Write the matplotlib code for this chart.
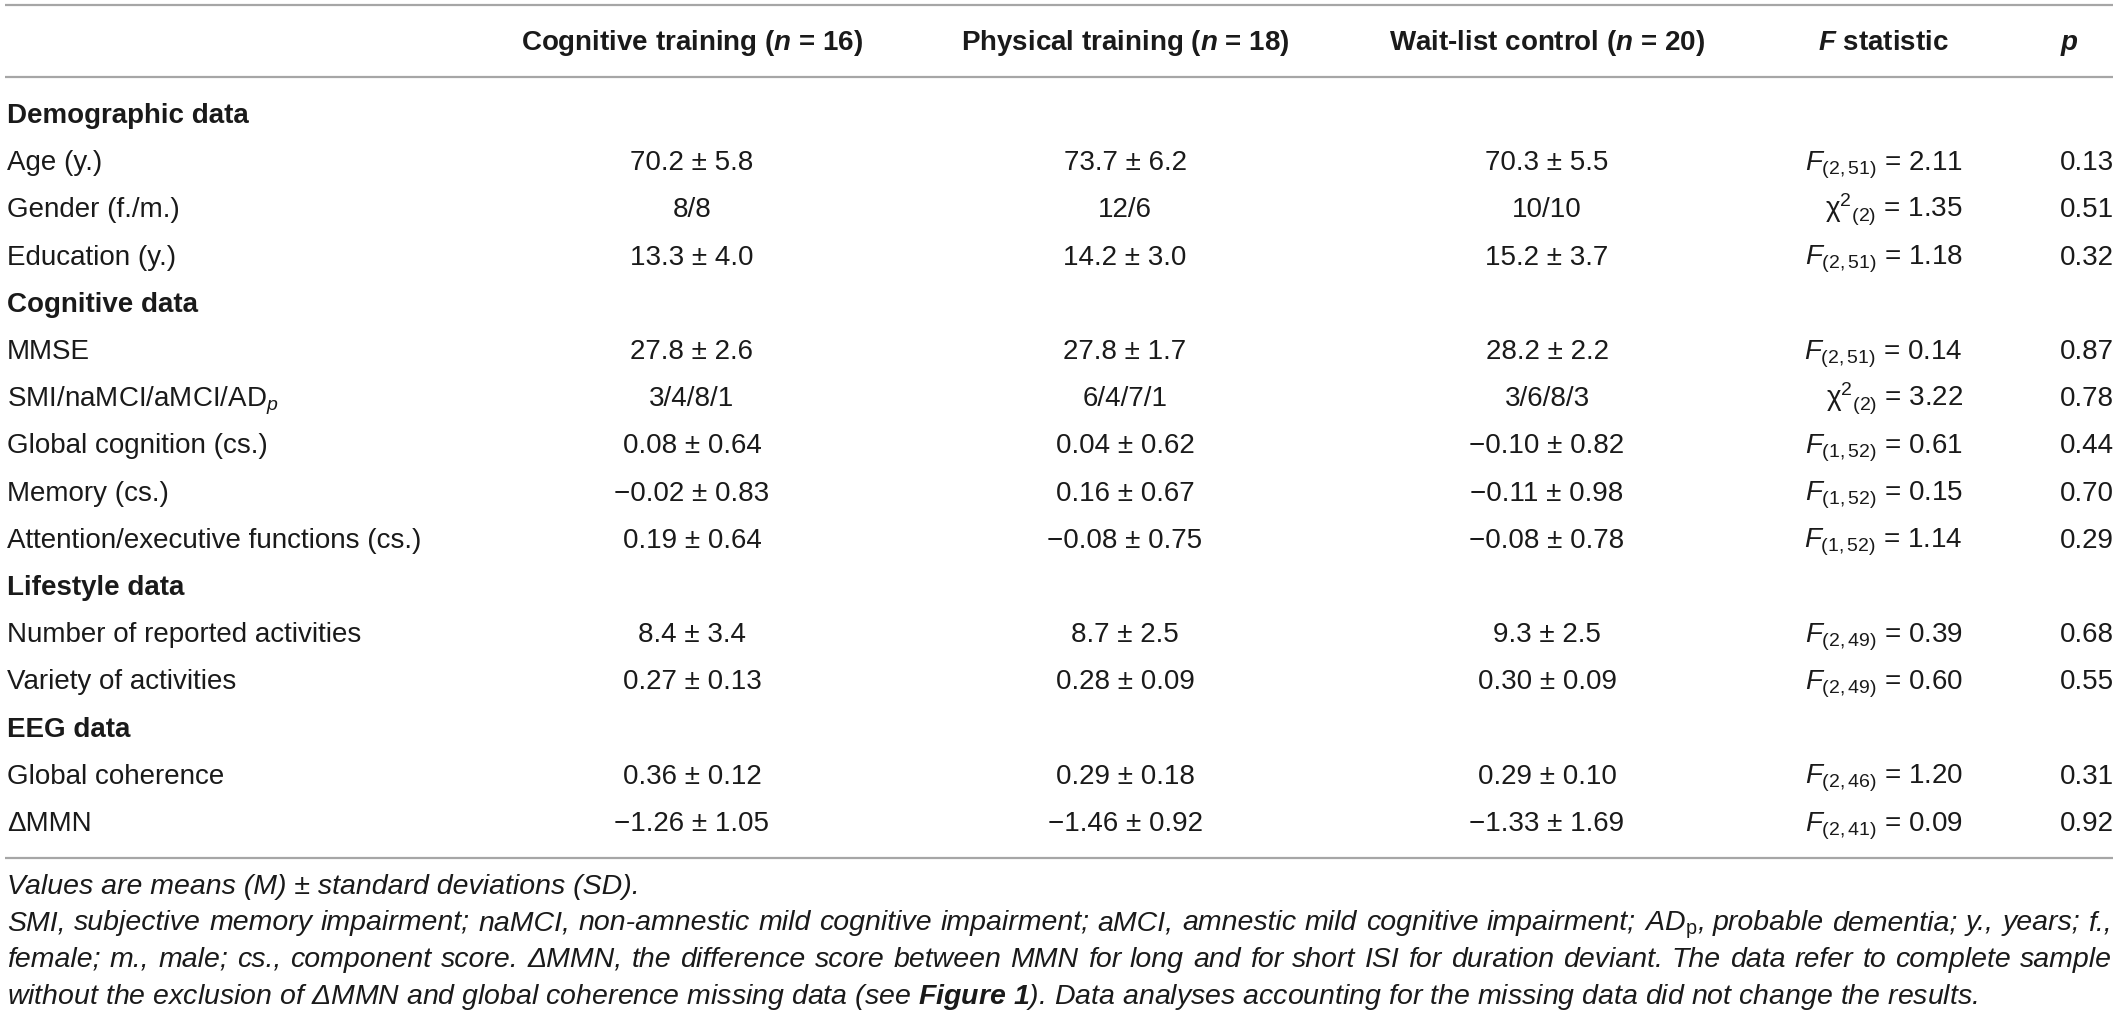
import matplotlib
matplotlib.use("Agg")
import matplotlib.pyplot as plt

plt.rcParams['font.family'] = ['Liberation Sans', 'DejaVu Sans']
plt.rcParams['mathtext.fontset'] = 'custom'
plt.rcParams['mathtext.rm'] = 'Liberation Sans'
plt.rcParams['mathtext.it'] = 'Liberation Sans:italic'
plt.rcParams['mathtext.bf'] = 'Liberation Sans:italic:bold'

# ---- table content ----
col_headers = [r"Cognitive training ($\mathbf{n}$ = 16)",
               r"Physical training ($\mathbf{n}$ = 18)",
               r"Wait-list control ($\mathbf{n}$ = 20)",
               r"$\mathbf{F}$ statistic",
               r"$\mathbf{p}$"]

row_labels = ["Demographic data", "Age (y.)", "Gender (f./m.)", "Education (y.)",
              "Cognitive data", "MMSE", r"SMI/naMCI/aMCI/AD$_{\mathit{p}}$",
              "Global cognition (cs.)", "Memory (cs.)",
              "Attention/executive functions (cs.)",
              "Lifestyle data", "Number of reported activities", "Variety of activities",
              "EEG data", "Global coherence", "\u0394MMN"]
is_section = [True, False, False, False, True, False, False, False, False, False,
              True, False, False, True, False, False]

cognitive = [None, "70.2 \u00b1 5.8", "8/8", "13.3 \u00b1 4.0",
             None, "27.8 \u00b1 2.6", "3/4/8/1", "0.08 \u00b1 0.64",
             "\u22120.02 \u00b1 0.83", "0.19 \u00b1 0.64",
             None, "8.4 \u00b1 3.4", "0.27 \u00b1 0.13",
             None, "0.36 \u00b1 0.12", "\u22121.26 \u00b1 1.05"]
physical = [None, "73.7 \u00b1 6.2", "12/6", "14.2 \u00b1 3.0",
            None, "27.8 \u00b1 1.7", "6/4/7/1", "0.04 \u00b1 0.62",
            "0.16 \u00b1 0.67", "\u22120.08 \u00b1 0.75",
            None, "8.7 \u00b1 2.5", "0.28 \u00b1 0.09",
            None, "0.29 \u00b1 0.18", "\u22121.46 \u00b1 0.92"]
waitlist = [None, "70.3 \u00b1 5.5", "10/10", "15.2 \u00b1 3.7",
            None, "28.2 \u00b1 2.2", "3/6/8/3", "\u22120.10 \u00b1 0.82",
            "\u22120.11 \u00b1 0.98", "\u22120.08 \u00b1 0.78",
            None, "9.3 \u00b1 2.5", "0.30 \u00b1 0.09",
            None, "0.29 \u00b1 0.10", "\u22121.33 \u00b1 1.69"]
stat_kind = [None, "F", "chi", "F", None, "F", "chi", "F", "F", "F",
             None, "F", "F", None, "F", "F"]
stat_df = [None, "2,51", "2", "2,51", None, "2,51", "2", "1,52", "1,52", "1,52",
           None, "2,49", "2,49", None, "2,46", "2,41"]
stat_val = [None, "2.11", "1.35", "1.18", None, "0.14", "3.22", "0.61", "0.15", "1.14",
            None, "0.39", "0.60", None, "1.20", "0.09"]
p_vals = [None, "0.13", "0.51", "0.32", None, "0.87", "0.78", "0.44", "0.70", "0.29",
          None, "0.68", "0.55", None, "0.31", "0.92"]

footnotes = [
    "Values are means (M) \u00b1 standard deviations (SD).",
    r"SMI, subjective memory impairment; naMCI, non-amnestic mild cognitive impairment; "
    r"aMCI, amnestic mild cognitive impairment; AD$_{\mathrm{p}}$, probable dementia; y., years; f.,",
    "female; m., male; cs., component score. \u0394MMN, the difference score between MMN "
    "for long and for short ISI for duration deviant. The data refer to complete sample",
    "without the exclusion of \u0394MMN and global coherence missing data (see "
    r"$\mathbf{Figure\ 1}$). Data analyses accounting for the missing data did not change the results.",
]
justify = [False, True, True, False]

W, H = 2118, 1018
fig = plt.figure(figsize=(W / 100, H / 100), dpi=100)
ax = fig.add_axes([0, 0, 1, 1])
ax.set_xlim(0, W)
ax.set_ylim(H, 0)
ax.axis('off')

txt = '#1a1a1a'
line_c = '#a6a6a6'
fs = 20
fs_note = 20.5

# rules
for y in (5, 77, 858):
    ax.plot([5, 2113], [y, y], color=line_c, lw=1.6, solid_capstyle='butt')

# header
col_x = [692, 1125, 1547, 1883, 2069]
for x, h in zip(col_x, col_headers):
    ax.text(x, 50, h, ha='center', va='baseline', fontsize=fs, fontweight='bold', color=txt)

# body rows
row0, step = 113, 47.2
for i, lab in enumerate(row_labels):
    yb = row0 + step * i + 10
    if is_section[i]:
        ax.text(7, yb, lab, ha='left', va='baseline', fontsize=fs, fontweight='bold', color=txt)
        continue
    ax.text(7, yb, lab, ha='left', va='baseline', fontsize=fs, color=txt)
    for x, col in zip(col_x[:3], (cognitive, physical, waitlist)):
        ax.text(x, yb, col[i], ha='center', va='baseline', fontsize=fs, color=txt)
    if stat_kind[i] == "F":
        s = r"$\mathit{F}_{(%s)}$ = %s" % (stat_df[i], stat_val[i])
    else:
        s = "\u03c7" + r"${}^{2}{}_{(%s)}$ = %s" % (stat_df[i], stat_val[i])
    ax.text(1963, yb, s, ha='right', va='baseline', fontsize=fs, color=txt)
    ax.text(2087, yb, p_vals[i], ha='center', va='baseline', fontsize=fs, color=txt)

# footnotes (lines 2-3 justified to the table width)
renderer = fig.canvas.get_renderer()
x_left, x_right = 7, 2112
for j, fn in enumerate(footnotes):
    yb = 894 + 36.5 * j
    if not justify[j]:
        ax.text(x_left, yb, fn, ha='left', va='baseline', fontsize=fs_note,
                style='italic', color=txt)
        continue
    words = []
    # keep "$...\ ...$" groups together
    for w in fn.split(' '):
        if words and words[-1].count('$') % 2 == 1:
            words[-1] += ' ' + w
        else:
            words.append(w)
    arts = [ax.text(0, yb, w, ha='left', va='baseline', fontsize=fs_note,
                    style='italic', color=txt) for w in words]
    widths = [a.get_window_extent(renderer).width for a in arts]
    gap = (x_right - x_left - sum(widths)) / (len(words) - 1)
    x = x_left
    for a, w in zip(arts, widths):
        a.set_x(x)
        x += w + gap

fig.savefig("out.png", dpi=100)
